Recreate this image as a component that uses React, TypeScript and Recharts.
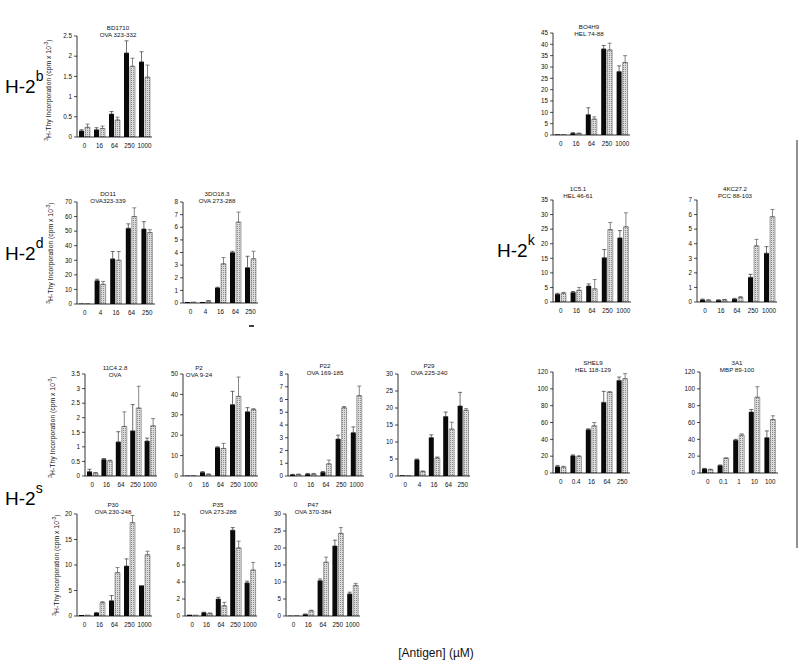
import React from "react";
import { Bar, BarChart, ErrorBar, XAxis, YAxis } from "recharts";

// antigen doses (µM)
const doses1000 = ["0", "16", "64", "250", "1000"];
const doses250 = ["0", "4", "16", "64", "250"];
const shel9Doses = ["0", "0.4", "16", "64", "250"];
const a1Doses = ["0", "0.1", "1", "10", "100"];

// y ticks
const t2_5 = [0, 0.5, 1, 1.5, 2, 2.5];
const t3_5 = [0, 0.5, 1, 1.5, 2, 2.5, 3, 3.5];
const t7 = [0, 1, 2, 3, 4, 5, 6, 7];
const t8 = [0, 1, 2, 3, 4, 5, 6, 7, 8];
const t12 = [0, 2, 4, 6, 8, 10, 12];
const t20 = [0, 5, 10, 15, 20];
const t30 = [0, 5, 10, 15, 20, 25, 30];
const t35 = [0, 5, 10, 15, 20, 25, 30, 35];
const t45 = [0, 5, 10, 15, 20, 25, 30, 35, 40, 45];
const t50 = [0, 10, 20, 30, 40, 50];
const t70 = [0, 10, 20, 30, 40, 50, 60, 70];
const t120 = [0, 20, 40, 60, 80, 100, 120];

// black = first series, gray = hatched series
const bd1710Black = [0.15, 0.18, 0.57, 2.08, 1.86];
const bd1710BlackErr = [0.03, 0.05, 0.06, 0.3, 0.25];
const bd1710Gray = [0.24, 0.21, 0.42, 1.75, 1.48];
const bd1710GrayErr = [0.08, 0.06, 0.07, 0.2, 0.3];

const bo4h9Black = [0.3, 0.8, 9, 38, 28];
const bo4h9BlackErr = [0, 0.2, 3, 1.5, 2.5];
const bo4h9Gray = [0.2, 0.7, 7, 37.5, 32];
const bo4h9GrayErr = [0, 0.1, 1, 3, 3];

const do11Black = [0.3, 16, 31, 52, 51.5];
const do11BlackErr = [0, 1, 5, 3, 5];
const do11Gray = [0.2, 13.5, 30, 60, 49];
const do11GrayErr = [0, 2, 6, 6, 2];

const d3o18Black = [0.08, 0.08, 1.2, 4.0, 2.8];
const d3o18BlackErr = [0, 0, 0.05, 0.1, 0.9];
const d3o18Gray = [0.08, 0.15, 3.1, 6.4, 3.5];
const d3o18GrayErr = [0, 0.05, 0.5, 0.8, 0.6];

const c15Black = [2.7, 3.3, 5.5, 15.2, 22];
const c15BlackErr = [0.3, 0.3, 0.7, 2.8, 2.5];
const c15Gray = [3.0, 4.0, 4.5, 24.8, 25.8];
const c15GrayErr = [0.3, 1, 3.2, 2.5, 4.8];

const kc27Black = [0.15, 0.12, 0.2, 1.7, 3.35];
const kc27BlackErr = [0.05, 0.03, 0.05, 0.2, 0.45];
const kc27Gray = [0.12, 0.15, 0.3, 3.85, 5.85];
const kc27GrayErr = [0.03, 0.03, 0.07, 0.45, 0.5];

const c11Black = [0.15, 0.57, 1.17, 1.55, 1.2];
const c11BlackErr = [0.08, 0.03, 0.35, 0.9, 0.1];
const c11Gray = [0.1, 0.52, 1.7, 2.33, 1.72];
const c11GrayErr = [0.02, 0.02, 0.5, 0.75, 0.25];

const p2Black = [0.2, 1.8, 14, 35, 31.5];
const p2BlackErr = [0, 0.3, 0.3, 6.5, 2];
const p2Gray = [0.2, 0.8, 13.5, 39, 32.5];
const p2GrayErr = [0, 0.2, 2.5, 9.5, 0.5];

const p22Black = [0.1, 0.15, 0.3, 2.9, 3.4];
const p22BlackErr = [0.03, 0.05, 0.05, 0.3, 0.45];
const p22Gray = [0.12, 0.15, 0.95, 5.35, 6.3];
const p22GrayErr = [0.03, 0.05, 0.3, 0.1, 0.75];

const p29Black = [0.2, 4.8, 11.3, 17.5, 20.6];
const p29BlackErr = [0, 0.2, 0.8, 1.3, 4];
const p29Gray = [0.1, 1.3, 5.3, 13.8, 19.3];
const p29GrayErr = [0, 0.2, 0.3, 2, 0.5];

const shel9Black = [7.5, 20.5, 51.5, 84, 110];
const shel9BlackErr = [1.5, 1, 1, 13, 4];
const shel9Gray = [7, 19.5, 56, 96, 112];
const shel9GrayErr = [1, 1, 4, 0.5, 6];

const a1Black = [5, 9, 39, 72.5, 42];
const a1BlackErr = [0.5, 0.5, 1, 3, 8];
const a1Gray = [4, 17.5, 45, 90, 63.5];
const a1GrayErr = [0.5, 0.5, 1.5, 12.5, 4.5];

const p30Black = [0.2, 0.6, 3.0, 9.8, 6.0];
const p30BlackErr = [0, 0.1, 1, 1.4, 0];
const p30Gray = [0.2, 2.6, 8.5, 18.3, 12];
const p30GrayErr = [0, 0.2, 1, 1.4, 0.7];

const p35Black = [0.15, 0.4, 2.0, 10.1, 3.9];
const p35BlackErr = [0, 0.05, 0.2, 0.3, 0.2];
const p35Gray = [0.12, 0.3, 1.2, 8.0, 5.4];
const p35GrayErr = [0, 0.05, 0.4, 0.8, 0.9];

const p47Black = [0.1, 0.5, 10.4, 20.6, 6.5];
const p47BlackErr = [0, 0.05, 0.5, 1.7, 0.5];
const p47Gray = [0.1, 1.5, 15.8, 24.3, 9.0];
const p47GrayErr = [0, 0.2, 1.5, 1.7, 0.6];

const FONT = "'Liberation Sans', Arial, sans-serif";
const YW = 22;
const MT = 4;
const XH = 16;

type Panel = {
  id: string;
  title: [string, string];
  doses: string[];
  black: number[];
  blackErr: number[];
  gray: number[];
  grayErr: number[];
  ticks: number[];
  // layout: y axis x, top tick y, zero y, plot width, title centre
  ax: number;
  top: number;
  bottom: number;
  w: number;
  tx: number;
  ty: number;
};

const panels: Panel[] = [
  { id: "bd1710", title: ["BD1710", "OVA 323-332"], doses: doses1000, black: bd1710Black, blackErr: bd1710BlackErr, gray: bd1710Gray, grayErr: bd1710GrayErr, ticks: t2_5, ax: 77, top: 36, bottom: 137, w: 75, tx: 118, ty: 28 },
  { id: "bo4h9", title: ["BO4H9", "HEL 74-88"], doses: doses1000, black: bo4h9Black, blackErr: bo4h9BlackErr, gray: bo4h9Gray, grayErr: bo4h9GrayErr, ticks: t45, ax: 553, top: 33, bottom: 135, w: 77, tx: 589, ty: 27 },
  { id: "do11", title: ["DO11", "OVA323-339"], doses: doses250, black: do11Black, blackErr: do11BlackErr, gray: do11Gray, grayErr: do11GrayErr, ticks: t70, ax: 77, top: 202, bottom: 304, w: 78, tx: 108, ty: 194 },
  { id: "d3o18", title: ["3DO18.3", "OVA 273-288"], doses: doses250, black: d3o18Black, blackErr: d3o18BlackErr, gray: d3o18Gray, grayErr: d3o18GrayErr, ticks: t8, ax: 183, top: 202, bottom: 303, w: 75, tx: 217, ty: 194 },
  { id: "c15", title: ["1C5.1", "HEL 46-61"], doses: doses1000, black: c15Black, blackErr: c15BlackErr, gray: c15Gray, grayErr: c15GrayErr, ticks: t35, ax: 553, top: 200, bottom: 302, w: 78, tx: 578, ty: 189 },
  { id: "kc27", title: ["4KC27.2", "PCC 88-103"], doses: doses1000, black: kc27Black, blackErr: kc27BlackErr, gray: kc27Gray, grayErr: kc27GrayErr, ticks: t7, ax: 697, top: 200, bottom: 302, w: 80, tx: 735, ty: 189 },
  { id: "c11", title: ["11C4.2.8", "OVA"], doses: doses1000, black: c11Black, blackErr: c11BlackErr, gray: c11Gray, grayErr: c11GrayErr, ticks: t3_5, ax: 85, top: 374, bottom: 476, w: 72, tx: 115, ty: 368 },
  { id: "p2", title: ["P2", "OVA 9-24"], doses: doses1000, black: p2Black, blackErr: p2BlackErr, gray: p2Gray, grayErr: p2GrayErr, ticks: t50, ax: 183, top: 374, bottom: 476, w: 75, tx: 199, ty: 368 },
  { id: "p22", title: ["P22", "OVA 169-185"], doses: doses1000, black: p22Black, blackErr: p22BlackErr, gray: p22Gray, grayErr: p22GrayErr, ticks: t8, ax: 288, top: 374, bottom: 476, w: 76, tx: 325, ty: 366 },
  { id: "p29", title: ["P29", "OVA 225-240"], doses: doses250, black: p29Black, blackErr: p29BlackErr, gray: p29Gray, grayErr: p29GrayErr, ticks: t30, ax: 398, top: 374, bottom: 476, w: 72, tx: 429, ty: 366 },
  { id: "shel9", title: ["SHEL9", "HEL 118-129"], doses: shel9Doses, black: shel9Black, blackErr: shel9BlackErr, gray: shel9Gray, grayErr: shel9GrayErr, ticks: t120, ax: 553, top: 372, bottom: 473, w: 77, tx: 593, ty: 363 },
  { id: "a1", title: ["3A1", "MBP 89-100"], doses: a1Doses, black: a1Black, blackErr: a1BlackErr, gray: a1Gray, grayErr: a1GrayErr, ticks: t120, ax: 700, top: 372, bottom: 473, w: 78, tx: 737, ty: 363 },
  { id: "p30", title: ["P30", "OVA 230-248"], doses: doses1000, black: p30Black, blackErr: p30BlackErr, gray: p30Gray, grayErr: p30GrayErr, ticks: t20, ax: 77, top: 514, bottom: 616, w: 75, tx: 113, ty: 505 },
  { id: "p35", title: ["P35", "OVA 273-288"], doses: doses1000, black: p35Black, blackErr: p35BlackErr, gray: p35Gray, grayErr: p35GrayErr, ticks: t12, ax: 185, top: 514, bottom: 616, w: 72, tx: 218, ty: 505 },
  { id: "p47", title: ["P47", "OVA 370-384"], doses: doses1000, black: p47Black, blackErr: p47BlackErr, gray: p47Gray, grayErr: p47GrayErr, ticks: t30, ax: 286, top: 514, bottom: 616, w: 74, tx: 313, ty: 505 },
];

const yLabels = [
  { x: 49, y: 90 },
  { x: 51, y: 253 },
  { x: 53, y: 427 },
  { x: 57, y: 565 },
];

const haplotypes = [
  { x: 5, y: 93, sup: "b" },
  { x: 5, y: 260, sup: "d" },
  { x: 497, y: 257, sup: "k" },
  { x: 5, y: 505, sup: "s" },
];

function PanelChart({ p }: { p: Panel }) {
  const data = p.doses.map((d, i) => ({
    dose: d,
    black: p.black[i],
    gray: p.gray[i],
    be: p.blackErr[i] > 0 ? [0, p.blackErr[i]] : null,
    ge: p.grayErr[i] > 0 ? [0, p.grayErr[i]] : null,
  }));
  const yMax = p.ticks[p.ticks.length - 1];
  const height = p.bottom - p.top + MT + XH;
  const tickStyle = { fontSize: 6.3, fill: "#111", fontFamily: FONT };
  return (
    <div style={{ position: "absolute", left: p.ax - YW, top: p.top - MT }}>
      <BarChart
        width={YW + p.w + 2}
        height={height}
        data={data}
        margin={{ top: MT, right: 2, bottom: 0, left: 0 }}
        barSize={5}
        barGap={1}
      >
        <defs>
          <pattern id={`dots-${p.id}`} width="2" height="2" patternUnits="userSpaceOnUse">
            <rect width="2" height="2" fill="#dcdcdc" />
            <rect width="1" height="1" fill="#8c8c8c" />
          </pattern>
        </defs>
        <XAxis
          dataKey="dose"
          height={XH}
          interval={0}
          tickLine={false}
          tickSize={5}
          axisLine={{ stroke: "#000", strokeWidth: 0.8 }}
          tick={tickStyle}
        />
        <YAxis
          width={YW}
          domain={[0, yMax]}
          ticks={p.ticks}
          interval={0}
          tickSize={3}
          tickLine={{ stroke: "#000", strokeWidth: 0.7 }}
          axisLine={{ stroke: "#000", strokeWidth: 0.8 }}
          tick={tickStyle}
          allowDataOverflow
        />
        <Bar dataKey="black" fill="#0a0a0a" isAnimationActive={false}>
          <ErrorBar dataKey="be" width={2} strokeWidth={0.7} stroke="#333" direction="y" isAnimationActive={false} />
        </Bar>
        <Bar dataKey="gray" fill={`url(#dots-${p.id})`} stroke="#555" strokeWidth={0.5} isAnimationActive={false}>
          <ErrorBar dataKey="ge" width={2} strokeWidth={0.7} stroke="#555" direction="y" isAnimationActive={false} />
        </Bar>
      </BarChart>
    </div>
  );
}

export default function App() {
  return (
    <div
      style={{
        position: "absolute",
        left: 0,
        top: 0,
        width: 800,
        height: 667,
        background: "#fff",
        overflow: "hidden",
        fontFamily: FONT,
      }}
    >
      {panels.map((p) => (
        <PanelChart key={p.id} p={p} />
      ))}
      <svg
        width={800}
        height={667}
        style={{ position: "absolute", left: 0, top: 0, pointerEvents: "none" }}
        fontFamily={FONT}
      >
        {panels.map((p) => (
          <g key={p.id} fontSize={6.2} fill="#111" textAnchor="middle">
            <text x={p.tx} y={p.ty + 2}>{p.title[0]}</text>
            <text x={p.tx} y={p.ty + 8.5}>{p.title[1]}</text>
          </g>
        ))}
        {yLabels.map((l, i) => (
          <text
            key={i}
            x={l.x}
            y={l.y}
            fontSize={6.8}
            fill="#111"
            textAnchor="middle"
            dominantBaseline="middle"
            transform={`rotate(-90 ${l.x} ${l.y})`}
          >
            <tspan fontSize={5} dy={-2.5}>3</tspan>
            <tspan dy={2.5}>H-Thy Incorporation (cpm x 10</tspan>
            <tspan fontSize={5} dy={-2.5}>-3</tspan>
            <tspan dy={2.5}>)</tspan>
          </text>
        ))}
        {haplotypes.map((h) => (
          <text key={h.sup} x={h.x} y={h.y} fontSize={19} fill="#000">
            H-2
            <tspan fontSize={14} dy={-12}>{h.sup}</tspan>
          </text>
        ))}
        <text x={436} y={657} fontSize={12} fill="#111" textAnchor="middle">
          [Antigen] (µM)
        </text>
        <line x1={797} y1={140} x2={797} y2={548} stroke="#222" strokeWidth={1} />
        <line x1={249} y1={326} x2={254} y2={326} stroke="#000" strokeWidth={1.5} />
      </svg>
    </div>
  );
}
